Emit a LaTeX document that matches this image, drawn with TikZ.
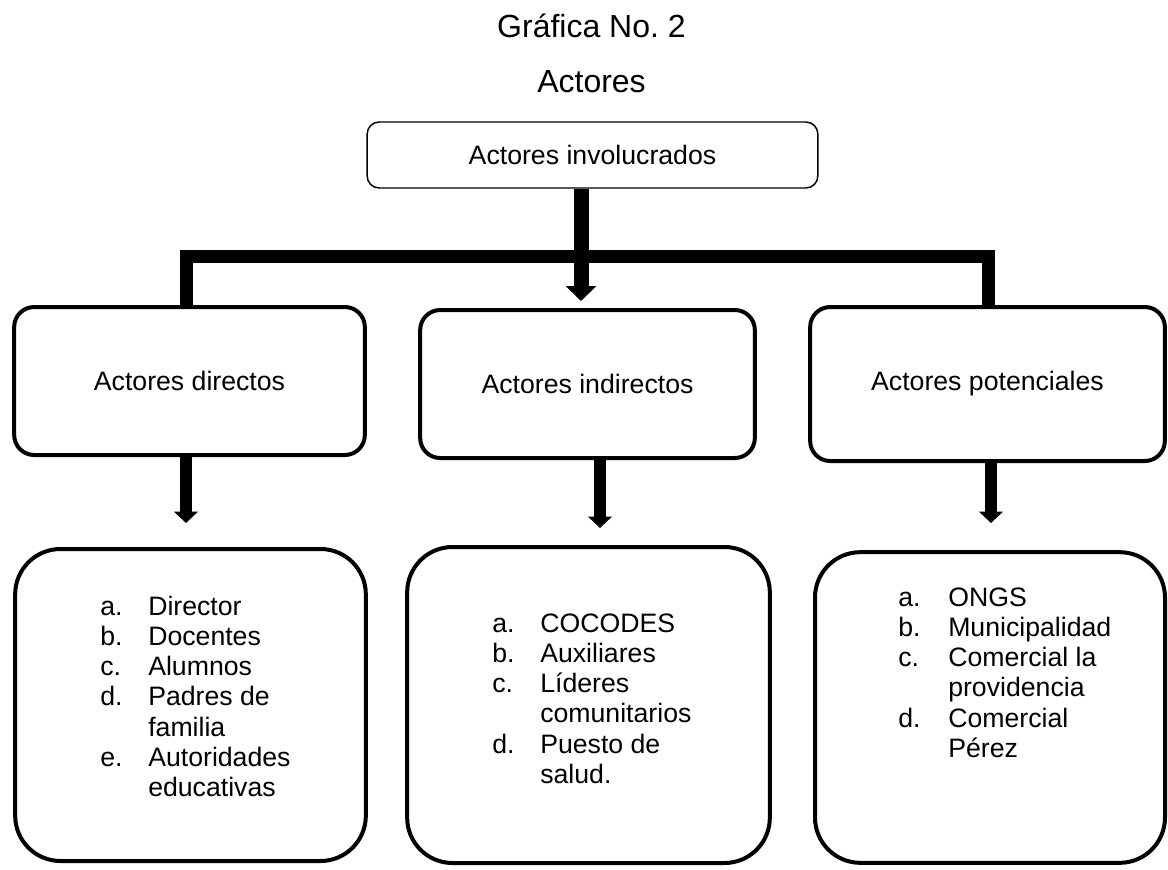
\documentclass[tikz,border=0pt]{standalone}
\usepackage{fontspec}
\setmainfont{Liberation Sans}
\usetikzlibrary{arrows.meta}
\frenchspacing
\begin{document}
\begin{tikzpicture}[x=0.75pt,y=-0.75pt,
  txt/.style={font=\fontsize{20pt}{22.7pt}\selectfont},
  ttl/.style={font=\fontsize{24pt}{28pt}\selectfont, anchor=base, inner sep=0pt},
  topbox/.style={draw, line width=1.1pt, rounded corners=9pt, minimum width=338pt, minimum height=49.5pt, inner sep=0pt, txt},
  midbox/.style={draw, line width=3pt, rounded corners=15pt, inner sep=0pt, txt},
  lowbox/.style={draw, line width=3pt, rounded corners=34pt, inner sep=0pt},
  bar/.style={line width=9.75pt},
  bigarrow/.style={line width=11.25pt, -{Triangle[width=22.5pt,length=11.25pt]}},
  downarrow/.style={line width=8.75pt, -{Triangle[width=17.5pt,length=8.5pt]}},
  list/.style={anchor=base west, inner sep=0pt, txt}
]
\useasboundingbox (0,0) rectangle (1168,869);

% titles
\node[ttl] (t1) at (591.5,37) {Gráfica No.~2};
\node[ttl] (t2) at (591.5,92) {Actores};

% top box
\node[topbox] (top) at (592.5,155) {Actores involucrados};

% middle boxes
\node[midbox, minimum width=263pt, minimum height=111pt] (lmid) at (189.5,381) {Actores directos};
\node[midbox, minimum width=251pt, minimum height=111pt] (mmid) at (587.5,384) {Actores indirectos};
\node[midbox, minimum width=266pt, minimum height=115.5pt] (rmid) at (987.5,384) {Actores potenciales};

% lower boxes
\node[lowbox, minimum width=263pt, minimum height=234pt] (llow) at (190.5,705) {};
\node[lowbox, minimum width=272pt, minimum height=237pt] (mlow) at (588.5,705) {};
\node[lowbox, minimum width=262.5pt, minimum height=233pt] (rlow) at (990,707.5) {};

% lists
\node[list] (l1) at (100,615) {\begin{tabular}[t]{@{}p{36pt}@{}l@{}}a.&Director\\ b.&Docentes\\ c.&Alumnos\\ d.&Padres de\\ &familia\\ e.&Autoridades\\ &educativas\end{tabular}};
\node[list] (l2) at (492,632) {\begin{tabular}[t]{@{}p{36pt}@{}l@{}}a.&COCODES\\ b.&Auxiliares\\ c.&Líderes\\ &comunitarios\\ d.&Puesto de\\ &salud.\end{tabular}};
\node[list] (l3) at (898,606) {\begin{tabular}[t]{@{}p{37.5pt}@{}l@{}}a.&ONGS\\ b.&Municipalidad\\ c.&Comercial la\\ &providencia\\ d.&Comercial\\ &Pérez\end{tabular}};

% connectors
\coordinate (ta) at (581,301);
\draw[bigarrow] (top.south -| ta) -- (ta);
\coordinate (bl) at (186,256);
\coordinate (br) at (988.5,256);
\draw[bar] (lmid.north -| bl) -- (bl) -- (br) -- (rmid.north -| br);

\coordinate (a1) at (186,523);
\coordinate (a2) at (600,528);
\coordinate (a3) at (991,523);
\draw[downarrow] (lmid.south -| a1) -- (a1);
\draw[downarrow] (mmid.south -| a2) -- (a2);
\draw[downarrow] (rmid.south -| a3) -- (a3);
\end{tikzpicture}
\end{document}
